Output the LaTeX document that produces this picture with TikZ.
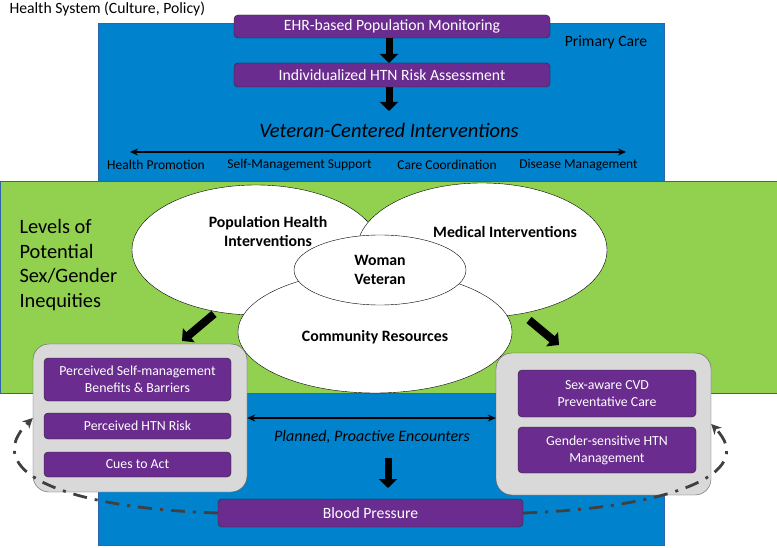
\documentclass[tikz,border=0pt]{standalone}
\usepackage{fontspec}
\setmainfont{Carlito}
\usetikzlibrary{arrows.meta,shapes.geometric}

\definecolor{pcblue}{RGB}{0,130,204}
\definecolor{pcbluedark}{RGB}{46,100,170}
\definecolor{lvgreen}{RGB}{146,208,80}
\definecolor{hpurple}{RGB}{106,44,142}
\definecolor{boxgray}{RGB}{217,217,217}
\definecolor{loopgray}{RGB}{64,64,64}

\tikzset{
  pbox/.style={draw=black!85, fill=hpurple, rounded corners=4pt, text=white,
    inner sep=0pt, align=center, font=\fontsize{15.7}{17}\selectfont},
  ibox/.style={pbox, font=\fontsize{13.8}{17}\selectfont},
  gbox/.style={draw=black!65, fill=boxgray, rounded corners=16pt, inner sep=0pt},
  oval/.style={ellipse, draw=black, fill=white, inner sep=0pt},
  ovaltext/.style={align=center, font=\bfseries\fontsize{15.8}{19}\selectfont},
  blockarrow/.style={line width=7pt, -{Triangle[width=18pt,length=9pt]}},
  spanarrow/.style={line width=1.4pt, {Stealth[length=8pt,width=7pt]}-{Stealth[length=8pt,width=7pt]}},
  feedback/.style={draw=loopgray, line width=2.8pt, dash pattern=on 14pt off 8pt on 3pt off 8pt,
    -{Stealth[length=10pt,width=10pt,inset=3pt]}},
  small/.style={font=\fontsize{13.5}{15}\selectfont},
}

\begin{document}
\begin{tikzpicture}[x=1pt,y=-1pt]
    \useasboundingbox (0,0) rectangle (777,548);

    % Backgrounds
    \fill[pcblue] (98,23) rectangle (664,545);
    \draw[pcbluedark, line width=0.6pt] (98,23) rectangle (664,545);
    \draw[fill=lvgreen, draw=pcbluedark, line width=0.6pt] (0,181) rectangle (777,393);

    \node[anchor=west, font=\fontsize{15.7}{16}\selectfont] (hs) at (6,9) {Health System (Culture, Policy)};
    \node[font=\fontsize{15.7}{16}\selectfont] (pc) at (606,42) {Primary Care};
    \node[anchor=west, align=left, font=\fontsize{20.4}{24.5}\selectfont] (lv) at (16,265)
        {Levels of\\Potential\\Sex/Gender\\Inequities};

    % Primary care pathway
    \node[pbox, minimum width=316pt, minimum height=23pt] (ehr) at (392,26.5) {EHR-based Population Monitoring};
    \node[pbox, minimum width=316pt, minimum height=24pt] (risk) at (392,75) {Individualized HTN Risk Assessment};
    \node[font=\itshape\fontsize{20.5}{22}\selectfont] (vci) at (389,130) {Veteran-Centered Interventions};
    \draw[blockarrow] (389,38) -- (389,63);
    \draw[blockarrow] (389,87) -- (389,111);

    \coordinate (spanl) at (130,152);
    \coordinate (spanr) at (626,152);
    \draw[spanarrow] (spanl) -- (spanr);
    \node[small] (hp) at (156,165) {Health Promotion};
    \node[small] (sms) at (299.5,165) {Self-Management Support};
    \node[small] (cc) at (447,165) {Care Coordination};
    \node[small] (dm) at (578.5,165) {Disease Management};

    % Overlapping ovals
    \node[oval, minimum width=248pt, minimum height=130pt] (pop) at (256,250) {};
    \node[oval, minimum width=250pt, minimum height=134pt] (med) at (482,250) {};
    \node[oval, minimum width=274pt, minimum height=122pt] (com) at (375,332) {};
    \node[oval, minimum width=172pt, minimum height=70pt] (wv) at (380,270) {};
    \node[ovaltext] (poptext) at (268,232) {Population Health\\Interventions};
    \node[ovaltext] (medtext) at (505,232) {Medical Interventions};
    \node[ovaltext] (comtext) at (375,337) {Community Resources};
    \node[ovaltext] (wvtext) at (380,270) {Woman\\Veteran};

    \coordinate (la) at (214,314);
    \coordinate (lb) at (182,341);
    \coordinate (ra) at (529,320);
    \coordinate (rb) at (559,345);
    \draw[blockarrow, line width=8pt] (la) -- (lb);
    \draw[blockarrow, line width=8pt] (ra) -- (rb);

    % Patient side
    \node[gbox, minimum width=214pt, minimum height=148pt] (lgray) at (140,418) {};
    \node[ibox, minimum width=187pt, minimum height=43pt] (pm1) at (137.5,379.5)
        {Perceived Self-management\\Benefits \& Barriers};
    \node[ibox, minimum width=187pt, minimum height=26pt] (pm2) at (137.5,426) {Perceived HTN Risk};
    \node[ibox, minimum width=187pt, minimum height=25pt] (pm3) at (137.5,464.5) {Cues to Act};

    % Provider side
    \node[gbox, minimum width=215pt, minimum height=142pt] (rgray) at (603.5,424) {};
    \node[ibox, minimum width=178pt, minimum height=47pt] (sx1) at (607,393.5)
        {Sex-aware CVD\\Preventative Care};
    \node[ibox, minimum width=178pt, minimum height=46pt] (sx2) at (607,450)
        {Gender-sensitive HTN\\Management};

    % Encounters and outcome
    \draw[spanarrow] (lgray.east) -- (lgray.east -| rgray.west);
    \node[font=\itshape\fontsize{16}{18}\selectfont] (pae) at (372,437) {Planned, Proactive Encounters};
    \node[pbox, minimum width=305pt, minimum height=28pt] (bp) at (370.5,513) {Blood Pressure};
    \draw[blockarrow] (388,458) -- (388,488);

    % Feedback loops
    \draw[feedback] (bp.west) .. controls (60,508) and (-20,470) .. (lgray.west);
    \draw[feedback] (bp.east) .. controls (665,508) and (760,475) .. (rgray.east);
\end{tikzpicture}
\end{document}
